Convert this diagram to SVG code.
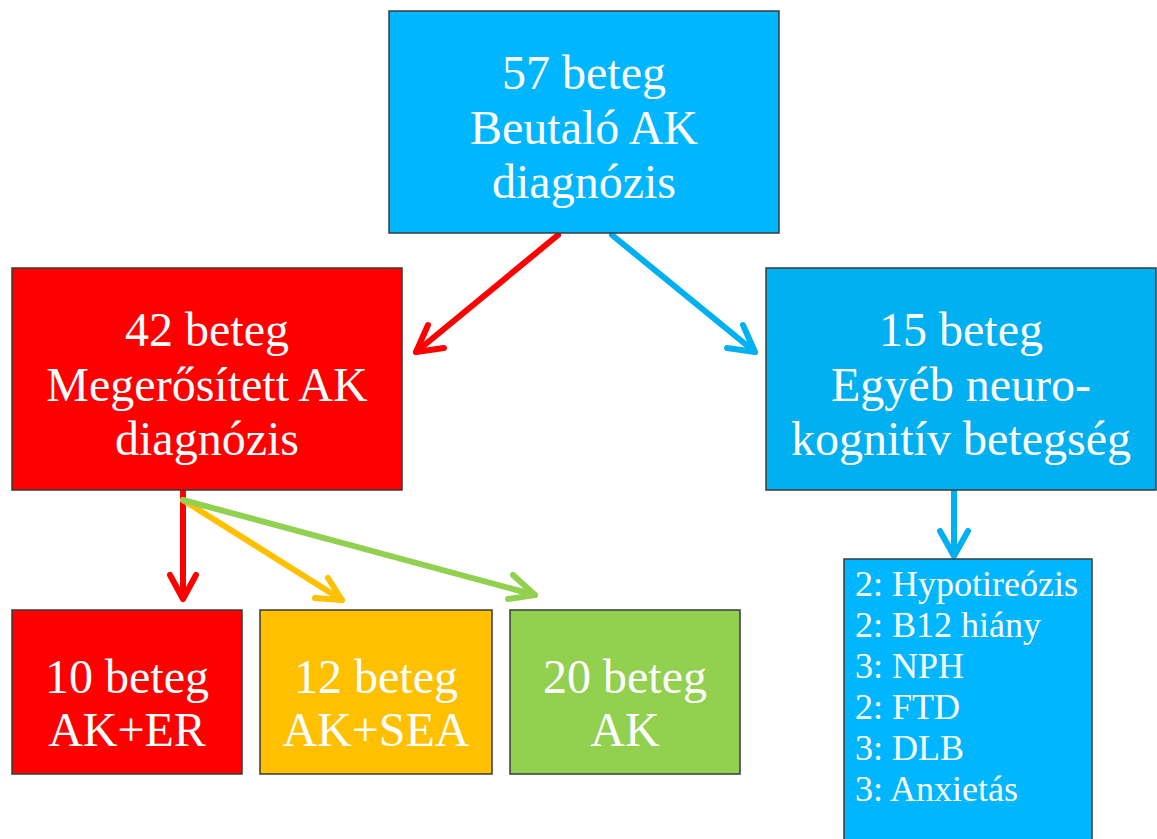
<svg xmlns="http://www.w3.org/2000/svg" width="1157" height="839" viewBox="0 0 1157 839">
<defs>
<style>
.box{stroke:#3a3a3a;stroke-width:1.5}
.t{font-family:"Liberation Serif","Times New Roman",serif;fill:#fff;font-size:48px;text-anchor:middle}
.l{font-family:"Liberation Serif","Times New Roman",serif;fill:#fff;font-size:36px}
.c{fill:none;stroke-width:6;stroke-linecap:round;stroke-linejoin:round}
</style>
</defs>
<rect width="1157" height="839" fill="#fff"/>
<g id="connectors">
<g stroke="#ff0000" class="c"><path d="M558,235 L416,352"/><path d="M428,325 L416,352 L444,348"/></g>
<g stroke="#00b0f0" class="c"><path d="M612,235 L755,352"/><path d="M743,325 L755,352 L727,348"/></g>
<g stroke="#ff0000" class="c"><path d="M183,492 L183,598"/><path d="M170,575 L183,599 L196,575"/></g>
<g stroke="#ffc000" class="c"><path d="M183,500 L342,600"/><path d="M328,578 L342,600 L315,598"/></g>
<g stroke="#92d050" class="c"><path d="M183,500 L535,595"/><path d="M513,575 L535,595 L508,599"/></g>
<g stroke="#00b0f0" class="c"><path d="M954,492 L954,555"/><path d="M940,531 L954,556 L968,531"/></g>
</g>
<g id="n57"><rect class="box" x="389" y="11" width="390" height="222" fill="#00b7ff"/>
<text class="t" x="584" y="89">57 beteg</text><text class="t" x="584" y="144">Beutaló AK</text><text class="t" x="584" y="198">diagnózis</text></g>
<g id="n42"><rect class="box" x="12" y="268" width="390" height="222" fill="#ff0000"/>
<text class="t" x="207" y="346">42 beteg</text><text class="t" x="207" y="401">Megerősített AK</text><text class="t" x="207" y="455">diagnózis</text></g>
<g id="n15"><rect class="box" x="766" y="268" width="390" height="222" fill="#00b0f0"/>
<text class="t" x="961" y="346">15 beteg</text><text class="t" x="961" y="401">Egyéb neuro-</text><text class="t" x="961" y="455">kognitív betegség</text></g>
<g id="n10"><rect class="box" x="12" y="610" width="230" height="164" fill="#ff0000"/>
<text class="t" x="127" y="693">10 beteg</text><text class="t" x="127" y="746">AK+ER</text></g>
<g id="n12"><rect class="box" x="260" y="610" width="232" height="164" fill="#ffc000"/>
<text class="t" x="376" y="693">12 beteg</text><text class="t" x="376" y="746">AK+SEA</text></g>
<g id="n20"><rect class="box" x="510" y="610" width="230" height="164" fill="#92d050"/>
<text class="t" x="625" y="693">20 beteg</text><text class="t" x="625" y="746">AK</text></g>
<g id="list"><rect class="box" x="844" y="559" width="248" height="290" fill="#00b7ff"/>
<text class="l" x="855" y="596">2: Hypotireózis</text>
<text class="l" x="855" y="637">2: B12 hiány</text>
<text class="l" x="855" y="678">3: NPH</text>
<text class="l" x="855" y="719">2: FTD</text>
<text class="l" x="855" y="760">3: DLB</text>
<text class="l" x="855" y="801">3: Anxietás</text></g>
</svg>
